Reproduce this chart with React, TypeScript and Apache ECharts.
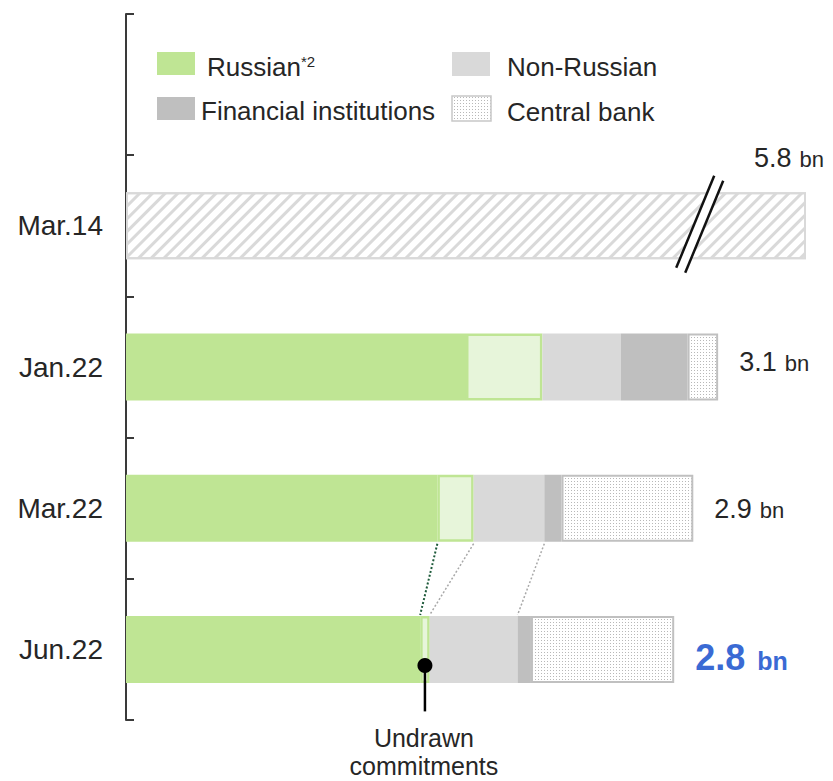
import React, { useEffect, useRef } from 'react';
import * as echarts from 'echarts';

const categories = ['', 'Mar.14', 'Jan.22', 'Mar.22', 'Jun.22'];
const russianDrawn = [null, null, 1.78, 1.63, 1.54];
const russianUndrawn = [null, null, 0.4, 0.19, 0.05];
const nonRussian = [null, null, 0.41, 0.37, 0.46];
const financialInst = [null, null, 0.35, 0.09, 0.07];
const centralBank = [null, null, 0.16, 0.69, 0.75];
// Mar.14 bar is drawn truncated (axis break); its real total is 5.8 bn
const brokenBar = [null, 3.56, null, null, null];
const totalLabels = ['', '5.8', '3.1', '2.9', '2.8'];
const axisMax = 3.56;
const highlightIndex = 4;

const FONT = '"Liberation Sans", Arial, Helvetica, sans-serif';
const TXT = '#262626';
const labelOffsets = [[0, 0], [0, 0], [0, -5], [0, 1], [0, 8]];

function makeDots() {
  const c = document.createElement('canvas');
  c.width = 3;
  c.height = 3;
  const g = c.getContext('2d')!;
  g.fillStyle = '#ffffff';
  g.fillRect(0, 0, 3, 3);
  g.fillStyle = '#b8b8b8';
  g.fillRect(1, 1, 1, 1);
  return c;
}

export default function App() {
  const ref = useRef<HTMLDivElement>(null);
  useEffect(() => {
    if (!ref.current) return;
    const chart = echarts.init(ref.current, null, { renderer: 'svg' });
    const dots: any = { image: makeDots(), repeat: 'repeat', imageWidth: 3, imageHeight: 3 };
    const dots2: any = { image: makeDots(), repeat: 'repeat', imageWidth: 3, imageHeight: 3 };
    const barW = 67;
    const base = { type: 'bar', stack: 'total', barWidth: barW, silent: true };
    const rich = {
      a: { fontSize: 27, color: TXT, fontFamily: FONT, verticalAlign: 'bottom' },
      b: { fontSize: 22, color: TXT, fontFamily: FONT, verticalAlign: 'bottom', padding: [0, 0, 1, 8] },
      c: { fontSize: 36, color: '#3a6ad4', fontWeight: 'bold', fontFamily: FONT, verticalAlign: 'bottom' },
      d: { fontSize: 25, color: '#3a6ad4', fontWeight: 'bold', fontFamily: FONT, verticalAlign: 'bottom', padding: [0, 0, 2, 12] },
    };
    const fmt = (p: any) =>
      p.dataIndex === highlightIndex
        ? `{c|${totalLabels[p.dataIndex]}}{d|bn}`
        : `{a|${totalLabels[p.dataIndex]}}{b|bn}`;

    chart.setOption({
      animation: false,
      grid: { left: 126, right: 27, top: 14, bottom: 61 },
      xAxis: { type: 'value', min: 0, max: axisMax, show: false },
      yAxis: {
        type: 'category',
        data: categories,
        inverse: true,
        axisLine: { show: true, lineStyle: { color: '#3a3a3a', width: 2 } },
        axisTick: { show: true, inside: true, length: 8, lineStyle: { color: '#3a3a3a', width: 2 } },
        axisLabel: { fontSize: 28, color: TXT, margin: 23, fontFamily: FONT },
      },
      series: [
        {
          ...base,
          name: 'Mar.14 total',
          data: brokenBar,
          itemStyle: {
            color: '#ffffff',
            borderColor: '#d9d9d9',
            borderWidth: 2,
            decal: {
              symbol: 'rect',
              symbolSize: 1,
              color: '#d9d9d9',
              backgroundColor: '#ffffff',
              dashArrayX: [1, 0],
              dashArrayY: [3, 6],
              rotation: -Math.PI / 4,
            },
          },
          label: {
            show: true,
            position: [628, -34],
            align: 'left',
            verticalAlign: 'middle',
            formatter: fmt,
            rich,
          },
        },
        { ...base, name: 'Russian drawn', data: russianDrawn, itemStyle: { color: '#bfe594' } },
        {
          ...base,
          name: 'Russian undrawn',
          data: russianUndrawn,
          itemStyle: { color: '#e7f5da', borderColor: '#bfe594', borderWidth: 2.5 },
        },
        { ...base, name: 'Non-Russian', data: nonRussian, itemStyle: { color: '#d9d9d9' } },
        { ...base, name: 'Financial institutions', data: financialInst, itemStyle: { color: '#bfbfbf' } },
        {
          ...base,
          name: 'Central bank',
          data: centralBank.map((v, i) => ({ value: v, label: { offset: labelOffsets[i] } })),
          itemStyle: { color: dots, borderColor: '#c0c0c0', borderWidth: 2 },
          label: {
            show: true,
            position: 'right',
            distance: 21,
            formatter: fmt,
            rich,
          },
        },
      ],
    });

    const px = (v: number, idx: number) => chart.convertToPixel({ gridIndex: 0 }, [v, idx]) as number[];
    const half = barW / 2;
    const els: any[] = [];
    const Z = 100;

    // Legend
    const legendItems = [
      { x: 157, y: 52, w: 38, h: 23, fill: '#bfe594', text: 'Russian', tx: 207, ty: 67 },
      { x: 157, y: 97, w: 38, h: 23, fill: '#bfbfbf', text: 'Financial institutions', tx: 201, ty: 110.5 },
      { x: 452, y: 52, w: 38, h: 24, fill: '#d9d9d9', text: 'Non-Russian', tx: 507, ty: 67 },
      { x: 452, y: 96, w: 39, h: 25, fill: dots2, stroke: '#c8c8c8', text: 'Central bank', tx: 507, ty: 112 },
    ];
    legendItems.forEach((it) => {
      els.push({
        type: 'rect',
        z: Z,
        shape: { x: it.x, y: it.y, width: it.w, height: it.h },
        style: { fill: it.fill, stroke: it.stroke || null, lineWidth: it.stroke ? 1.5 : 0 },
      });
      els.push({
        type: 'text',
        z: Z,
        x: it.tx,
        y: it.ty,
        style: { text: it.text, fontSize: 26, fontFamily: FONT, fill: TXT, verticalAlign: 'middle', align: 'left' },
      });
    });
    els.push({
      type: 'text',
      z: Z,
      x: 301,
      y: 61,
      style: { text: '*2', fontSize: 15, fontFamily: FONT, fill: TXT, verticalAlign: 'middle', align: 'left' },
    });

    // Axis-break mark on the Mar.14 bar
    const bc = px(2.98, 1);
    const l1 = [[bc[0] + 19, bc[1] - 50], [bc[0] - 19, bc[1] + 42]];
    const l2 = [[bc[0] + 28, bc[1] - 45], [bc[0] - 10, bc[1] + 47]];
    els.push({
      type: 'polygon',
      z: Z,
      shape: { points: [l1[0], l2[0], l2[1], l1[1]] },
      style: { fill: '#ffffff' },
    });
    [l1, l2].forEach((l) =>
      els.push({
        type: 'line',
        z: Z + 1,
        shape: { x1: l[0][0], y1: l[0][1], x2: l[1][0], y2: l[1][1] },
        style: { stroke: '#111111', lineWidth: 2.5 },
      })
    );

    // Connectors between Mar.22 and Jun.22 bars
    const cum = (i: number) => [
      russianDrawn[i]!,
      russianDrawn[i]! + russianUndrawn[i]!,
      russianDrawn[i]! + russianUndrawn[i]! + nonRussian[i]!,
    ];
    const cMar = cum(3);
    const cJun = cum(4);
    const connColors = ['#1d5a3a', '#a8a8a8', '#a8a8a8'];
    cMar.forEach((v, k) => {
      const a = px(v, 3);
      const b = px(cJun[k], 4);
      els.push({
        type: 'line',
        z: Z,
        shape: { x1: a[0], y1: a[1] + half + 2, x2: b[0], y2: b[1] - half - 1 },
        style: { stroke: connColors[k], lineWidth: k === 0 ? 2 : 1.5, lineDash: [2, 2] },
      });
    });

    // Undrawn commitments pointer
    const pu = px(russianDrawn[4]! + russianUndrawn[4]! / 2, 4);
    els.push({
      type: 'line',
      z: Z,
      shape: { x1: pu[0], y1: pu[1] + 16, x2: pu[0], y2: pu[1] + 62 },
      style: { stroke: '#000000', lineWidth: 2.5 },
    });
    els.push({ type: 'circle', z: Z + 1, shape: { cx: pu[0], cy: pu[1] + 16, r: 7.5 }, style: { fill: '#000000' } });
    els.push({
      type: 'text',
      z: Z,
      x: pu[0] - 1,
      y: pu[1] + 89,
      style: { text: 'Undrawn', fontSize: 25, fontFamily: FONT, fill: TXT, align: 'center', verticalAlign: 'middle' },
    });
    els.push({
      type: 'text',
      z: Z,
      x: pu[0] - 1,
      y: pu[1] + 117,
      style: { text: 'commitments', fontSize: 25, fontFamily: FONT, fill: TXT, align: 'center', verticalAlign: 'middle' },
    });

    chart.setOption({ graphic: { elements: els } });

    return () => chart.dispose();
  }, []);

  return <div ref={ref} style={{ position: 'absolute', left: 0, top: 0, width: 833, height: 781 }} />;
}
